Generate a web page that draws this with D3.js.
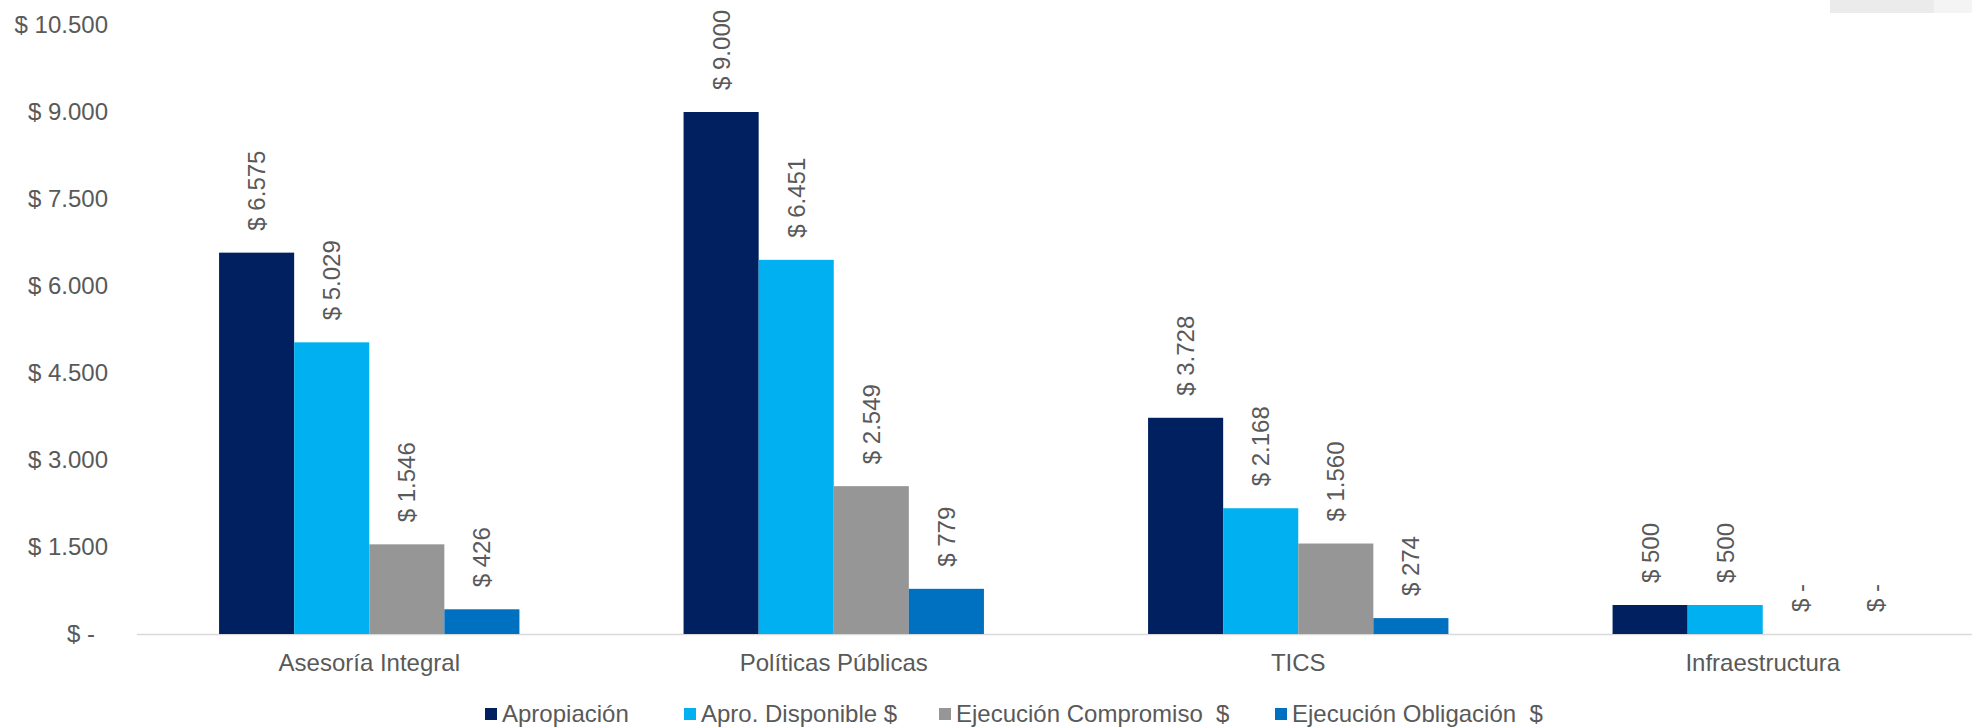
<!DOCTYPE html>
<html>
<head>
<meta charset="utf-8">
<script src="https://cdn.jsdelivr.net/npm/d3@7"></script>
<style>
  body { margin: 0; background: #fff; }
  text { font-family: "Liberation Sans", Arial, sans-serif; fill: #595959; }
</style>
</head>
<body>
<svg width="1972" height="728"></svg>
<script>
var categories = ["Asesoría Integral", "Políticas Públicas", "TICS", "Infraestructura"];
var seriesNames = ["Apropiación", "Apro. Disponible $", "Ejecución Compromiso  $", "Ejecución Obligación  $"];
var apropiacion = [6575, 9000, 3728, 500];
var disponible = [5029, 6451, 2168, 500];
var compromiso = [1546, 2549, 1560, 0];
var obligacion = [426, 779, 274, 0];
var yTicks = [0, 1500, 3000, 4500, 6000, 7500, 9000, 10500];
var colors = ["#002060", "#00B0F0", "#969696", "#0070C0"];

var seriesValues = [apropiacion, disponible, compromiso, obligacion];

var svg = d3.select("svg"),
    width = +svg.attr("width"),
    height = +svg.attr("height");

var loc = d3.formatLocale({decimal: ",", thousands: ".", grouping: [3], currency: ["$", ""]});
var fmt = loc.format(",d");
function money(v) {
    return v === 0 ? "$ -" : "$ " + fmt(v);
}

// top-right decoration
svg.append("rect").attr("x", 1830).attr("y", 0).attr("width", 104).attr("height", 13).style("fill", "#ebebeb");
svg.append("rect").attr("x", 1934).attr("y", 0).attr("width", 38).attr("height", 13).style("fill", "#f4f4f4");

var y = d3.scaleLinear().domain([0, 10500]).range([634, 25]);

var x0 = d3.scaleBand().domain(categories).range([137, 1995]).padding(0);
var x1 = d3.scaleBand().domain(d3.range(seriesNames.length))
    .range([0, x0.bandwidth()]).paddingInner(0).paddingOuter(1.093);

// y labels
svg.append("g").selectAll("text")
    .data(yTicks)
    .enter().append("text")
    .attr("x", function (d) { return d === 0 ? 95 : 108; })
    .attr("y", function (d) { return y(d); })
    .attr("dy", "0.35em")
    .attr("text-anchor", "end")
    .style("font-size", "24px")
    .text(money);

// baseline
svg.append("line")
    .attr("x1", 137).attr("x2", width)
    .attr("y1", y(0) + 0.5).attr("y2", y(0) + 0.5)
    .style("stroke", "#d9d9d9").style("stroke-width", 1.5);

var rows = [];
categories.forEach(function (c, i) {
    seriesValues.forEach(function (vals, s) {
        rows.push({cat: c, s: s, value: vals[i]});
    });
});

svg.append("g").selectAll("rect")
    .data(rows)
    .enter().append("rect")
    .attr("x", function (d) { return x0(d.cat) + x1(d.s); })
    .attr("y", function (d) { return y(d.value); })
    .attr("width", x1.bandwidth())
    .attr("height", function (d) { return y(0) - y(d.value); })
    .style("fill", function (d) { return colors[d.s]; });

svg.append("g").selectAll("text")
    .data(rows)
    .enter().append("text")
    .attr("transform", function (d) {
        var cx = x0(d.cat) + x1(d.s) + x1.bandwidth() / 2;
        return "translate(" + cx + "," + (y(d.value) - 22) + ") rotate(-90)";
    })
    .attr("dy", "0.35em")
    .attr("text-anchor", "start")
    .style("font-size", "24px")
    .text(function (d) { return money(d.value); });

// category labels
svg.append("g").selectAll("text")
    .data(categories)
    .enter().append("text")
    .attr("x", function (d) { return x0(d) + x0.bandwidth() / 2; })
    .attr("y", 663)
    .attr("dy", "0.35em")
    .attr("text-anchor", "middle")
    .style("font-size", "24px")
    .text(function (d) { return d; });

// legend
var legendX = [485, 684, 939, 1275];
var legend = svg.append("g").selectAll("g")
    .data(seriesNames)
    .enter().append("g")
    .attr("transform", function (d, i) { return "translate(" + legendX[i] + ",714)"; });

legend.append("rect")
    .attr("x", 0).attr("y", -6)
    .attr("width", 12).attr("height", 12)
    .style("fill", function (d, i) { return colors[i]; });

legend.append("text")
    .attr("x", 17)
    .attr("dy", "0.35em")
    .style("font-size", "24px")
    .style("white-space", "pre")
    .text(function (d) { return d; });
</script>
</body>
</html>
